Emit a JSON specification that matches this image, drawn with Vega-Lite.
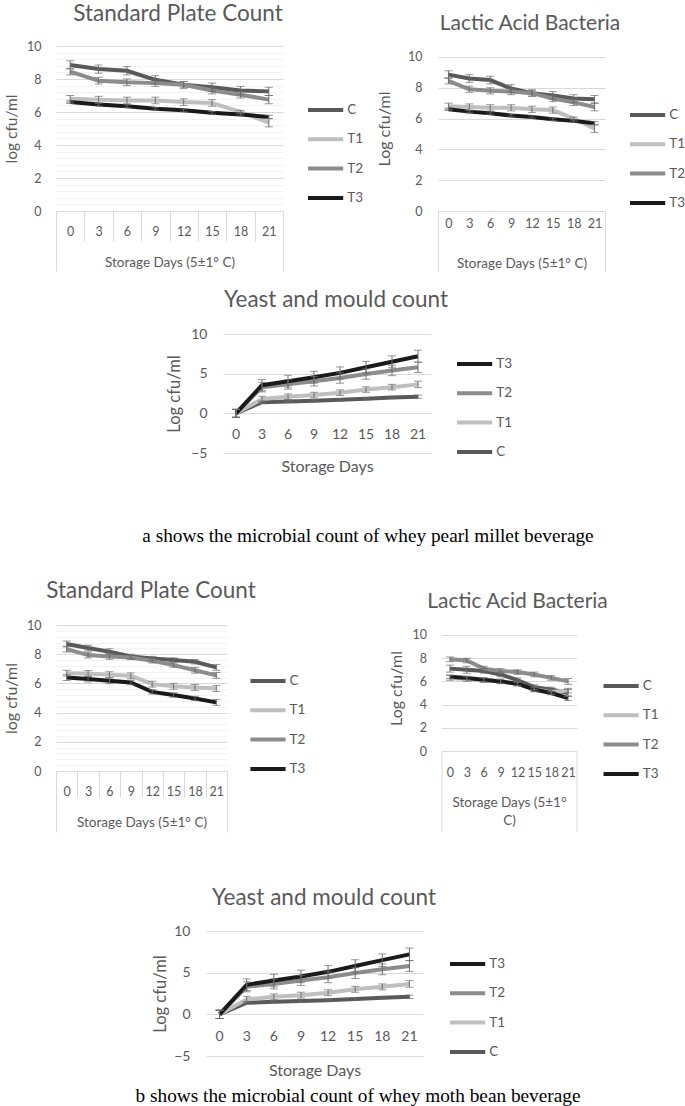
{
  "$schema": "https://vega.github.io/schema/vega-lite/v6.json",
  "background": "white",
  "padding": {"left": 3, "top": 2, "right": 0, "bottom": 0},
  "spacing": 0,
  "resolve": {"scale": {"color": "independent"}, "legend": {"color": "independent"}},
  "config": {
    "view": {"stroke": null},
    "font": "Lato",
    "title": {"font": "Lato", "fontSize": 22.5, "fontWeight": "normal", "color": "#595959", "anchor": "middle"},
    "axis": {"labelFont": "Lato", "titleFont": "Lato", "labelColor": "#595959", "titleColor": "#595959", "labelFontSize": 12.5, "titleFontSize": 13.5, "titleFontWeight": "normal", "domain": false, "ticks": false, "gridColor": "#d9d9d9", "labelOverlap": false},
    "legend": {"labelFont": "Lato", "labelFontSize": 13.5, "labelColor": "#595959", "padding": 0, "symbolType": "M-2.2,0H2.2", "symbolSize": 256, "symbolStrokeWidth": 4, "labelOffset": 11.6, "rowPadding": 11.3, "orient": "none"}
  },
  "datasets": {
    "spcA": [
      {"d":0,"s":"C","v":8.85,"e":0.25},{"d":3,"s":"C","v":8.6,"e":0.25},{"d":6,"s":"C","v":8.5,"e":0.25},{"d":9,"s":"C","v":7.95,"e":0.25},{"d":12,"s":"C","v":7.65,"e":0.2},{"d":15,"s":"C","v":7.5,"e":0.25},{"d":18,"s":"C","v":7.3,"e":0.25},{"d":21,"s":"C","v":7.25,"e":0.25},
      {"d":0,"s":"T1","v":6.8,"e":0.2},{"d":3,"s":"T1","v":6.75,"e":0.2},{"d":6,"s":"T1","v":6.7,"e":0.2},{"d":9,"s":"T1","v":6.7,"e":0.2},{"d":12,"s":"T1","v":6.6,"e":0.2},{"d":15,"s":"T1","v":6.55,"e":0.2},{"d":18,"s":"T1","v":6.0,"e":0.1},{"d":21,"s":"T1","v":5.35,"e":0.25},
      {"d":0,"s":"T2","v":8.45,"e":0.2},{"d":3,"s":"T2","v":7.9,"e":0.2},{"d":6,"s":"T2","v":7.8,"e":0.2},{"d":9,"s":"T2","v":7.75,"e":0.2},{"d":12,"s":"T2","v":7.65,"e":0.2},{"d":15,"s":"T2","v":7.3,"e":0.2},{"d":18,"s":"T2","v":7.05,"e":0.2},{"d":21,"s":"T2","v":6.75,"e":0.25},
      {"d":0,"s":"T3","v":6.6,"e":0.08},{"d":3,"s":"T3","v":6.45,"e":0.08},{"d":6,"s":"T3","v":6.35,"e":0.08},{"d":9,"s":"T3","v":6.2,"e":0.08},{"d":12,"s":"T3","v":6.1,"e":0.08},{"d":15,"s":"T3","v":5.95,"e":0.08},{"d":18,"s":"T3","v":5.85,"e":0.08},{"d":21,"s":"T3","v":5.7,"e":0.1}
    ],
    "spcB": [
      {"d":0,"s":"C","v":8.7,"e":0.2},{"d":3,"s":"C","v":8.42,"e":0.2},{"d":6,"s":"C","v":8.17,"e":0.2},{"d":9,"s":"C","v":7.85,"e":0.15},{"d":12,"s":"C","v":7.7,"e":0.15},{"d":15,"s":"C","v":7.6,"e":0.15},{"d":18,"s":"C","v":7.48,"e":0.15},{"d":21,"s":"C","v":7.1,"e":0.2},
      {"d":0,"s":"T1","v":6.7,"e":0.2},{"d":3,"s":"T1","v":6.68,"e":0.2},{"d":6,"s":"T1","v":6.6,"e":0.2},{"d":9,"s":"T1","v":6.52,"e":0.2},{"d":12,"s":"T1","v":5.95,"e":0.2},{"d":15,"s":"T1","v":5.8,"e":0.2},{"d":18,"s":"T1","v":5.72,"e":0.2},{"d":21,"s":"T1","v":5.65,"e":0.2},
      {"d":0,"s":"T2","v":8.35,"e":0.2},{"d":3,"s":"T2","v":7.94,"e":0.2},{"d":6,"s":"T2","v":7.85,"e":0.2},{"d":9,"s":"T2","v":7.78,"e":0.15},{"d":12,"s":"T2","v":7.55,"e":0.15},{"d":15,"s":"T2","v":7.25,"e":0.15},{"d":18,"s":"T2","v":6.9,"e":0.2},{"d":21,"s":"T2","v":6.55,"e":0.2},
      {"d":0,"s":"T3","v":6.4,"e":0.2},{"d":3,"s":"T3","v":6.3,"e":0.2},{"d":6,"s":"T3","v":6.18,"e":0.2},{"d":9,"s":"T3","v":6.06,"e":0.15},{"d":12,"s":"T3","v":5.42,"e":0.15},{"d":15,"s":"T3","v":5.2,"e":0.15},{"d":18,"s":"T3","v":4.97,"e":0.15},{"d":21,"s":"T3","v":4.7,"e":0.2}
    ],
    "labB": [
      {"d":0,"s":"C","v":7.1,"e":0.3},{"d":3,"s":"C","v":7.0,"e":0.3},{"d":6,"s":"C","v":6.9,"e":0.2},{"d":9,"s":"C","v":6.6,"e":0.2},{"d":12,"s":"C","v":6.1,"e":0.2},{"d":15,"s":"C","v":5.5,"e":0.2},{"d":18,"s":"C","v":5.3,"e":0.2},{"d":21,"s":"C","v":5.0,"e":0.3},
      {"d":0,"s":"T1","v":6.3,"e":0.2},{"d":3,"s":"T1","v":6.2,"e":0.2},{"d":6,"s":"T1","v":6.1,"e":0.2},{"d":9,"s":"T1","v":6.0,"e":0.2},{"d":12,"s":"T1","v":5.8,"e":0.2},{"d":15,"s":"T1","v":5.3,"e":0.2},{"d":18,"s":"T1","v":5.1,"e":0.2},{"d":21,"s":"T1","v":5.2,"e":0.2},
      {"d":0,"s":"T2","v":7.9,"e":0.2},{"d":3,"s":"T2","v":7.8,"e":0.2},{"d":6,"s":"T2","v":7.1,"e":0.2},{"d":9,"s":"T2","v":6.9,"e":0.2},{"d":12,"s":"T2","v":6.8,"e":0.2},{"d":15,"s":"T2","v":6.6,"e":0.2},{"d":18,"s":"T2","v":6.3,"e":0.2},{"d":21,"s":"T2","v":6.0,"e":0.25},
      {"d":0,"s":"T3","v":6.4,"e":0.15},{"d":3,"s":"T3","v":6.3,"e":0.15},{"d":6,"s":"T3","v":6.15,"e":0.15},{"d":9,"s":"T3","v":6.0,"e":0.15},{"d":12,"s":"T3","v":5.8,"e":0.15},{"d":15,"s":"T3","v":5.3,"e":0.15},{"d":18,"s":"T3","v":5.0,"e":0.15},{"d":21,"s":"T3","v":4.55,"e":0.2}
    ],
    "yeast": [
      {"d":0,"s":"C","v":0,"e":0.5},{"d":3,"s":"C","v":1.4,"e":0.15},{"d":6,"s":"C","v":1.5,"e":0.15},{"d":9,"s":"C","v":1.6,"e":0.15},{"d":12,"s":"C","v":1.7,"e":0.15},{"d":15,"s":"C","v":1.85,"e":0.15},{"d":18,"s":"C","v":2.0,"e":0.15},{"d":21,"s":"C","v":2.1,"e":0.2},
      {"d":0,"s":"T1","v":0,"e":0.5},{"d":3,"s":"T1","v":1.8,"e":0.35},{"d":6,"s":"T1","v":2.1,"e":0.35},{"d":9,"s":"T1","v":2.3,"e":0.35},{"d":12,"s":"T1","v":2.6,"e":0.35},{"d":15,"s":"T1","v":3.0,"e":0.35},{"d":18,"s":"T1","v":3.3,"e":0.35},{"d":21,"s":"T1","v":3.65,"e":0.4},
      {"d":0,"s":"T2","v":0,"e":0.5},{"d":3,"s":"T2","v":3.3,"e":0.6},{"d":6,"s":"T2","v":3.65,"e":0.6},{"d":9,"s":"T2","v":4.05,"e":0.6},{"d":12,"s":"T2","v":4.45,"e":0.65},{"d":15,"s":"T2","v":4.95,"e":0.65},{"d":18,"s":"T2","v":5.4,"e":0.65},{"d":21,"s":"T2","v":5.8,"e":0.65},
      {"d":0,"s":"T3","v":0,"e":0.5},{"d":3,"s":"T3","v":3.55,"e":0.7},{"d":6,"s":"T3","v":4.05,"e":0.75},{"d":9,"s":"T3","v":4.55,"e":0.75},{"d":12,"s":"T3","v":5.1,"e":0.75},{"d":15,"s":"T3","v":5.8,"e":0.75},{"d":18,"s":"T3","v":6.5,"e":0.75},{"d":21,"s":"T3","v":7.2,"e":0.75}
    ]
  },
  "vconcat": [
    {
      "resolve": {"scale": {"color": "independent"}, "legend": {"color": "independent"}},
      "hconcat": [
        {
          "width": 227, "height": 165,
          "title": {"text": "Standard Plate Count", "offset": 14.7, "dx": 8.5},
          "data": {"name": "spcA"},
          "encoding": {
            "x": {"field": "d", "type": "ordinal", "scale": {"type": "band", "paddingInner": 0, "paddingOuter": 0},
                  "axis": {"title": "Storage Days (5±1° C)", "labelAngle": 0, "tickBand": "extent", "ticks": true, "domain": true, "domainColor": "#d9d9d9", "tickColor": "#d9d9d9",
                           "tickSize": {"condition": {"test": "datum.extra || datum.value === 21", "value": 60}, "value": 30},
                           "labelPadding": {"condition": {"test": "datum.extra || datum.value === 21", "value": -40}, "value": -10},
                           "labelBaseline": "middle", "titlePadding": -16.5}},
            "y": {"field": "v", "type": "quantitative", "scale": {"domain": [0, 10], "nice": false},
                  "axis": {"title": "log cfu/ml", "titleFontSize": 15.5, "values": [0,0.4,0.8,1.2,1.6,2,2.4,2.8,3.2,3.6,4,4.4,4.8,5.2,5.6,6,6.4,6.8,7.2,7.6,8,8.4,8.8,9.2,9.6,10],
                           "labelExpr": "datum.value % 2 === 0 ? '' + datum.value : ''", "grid": true,
                           "gridColor": {"condition": {"test": "datum.value % 2 === 0", "value": "#d9d9d9"}, "value": "#f2f2f2"},
                           "labelPadding": 15, "titlePadding": 7.5}}
          },
          "layer": [
            {"mark": {"type": "line", "strokeWidth": 4},
             "encoding": {"color": {"field": "s", "type": "nominal", "scale": {"domain": ["C","T1","T2","T3"], "range": ["#595959","#bfbfbf","#8c8c8c","#1a1a1a"]},
                                    "legend": {"title": null, "legendX": 259.6, "legendY": 54}}}},
            {"mark": {"type": "errorbar", "ticks": {"size": 8}, "color": "#6b6b6b", "thickness": 1},
             "encoding": {"yError": {"field": "e"}}}
          ]
        },
        {
          "width": 167, "height": 165,
          "title": {"text": "Lactic Acid Bacteria", "fontSize": 21, "offset": 12, "dx": 8.5},
          "data": {"name": "spcA"},
          "encoding": {
            "x": {"field": "d", "type": "ordinal", "scale": {"type": "band", "paddingInner": 0, "paddingOuter": 0},
                  "axis": {"title": "Storage Days (5±1° C)", "labelAngle": 0, "tickBand": "extent", "ticks": true, "domain": true, "domainColor": "#d9d9d9",
                           "tickColor": {"condition": {"test": "datum.extra || datum.value === 21", "value": "#d9d9d9"}, "value": "transparent"},
                           "tickSize": 60, "labelPadding": -48, "labelBaseline": "middle", "titlePadding": -15.5}},
            "y": {"field": "v", "type": "quantitative", "scale": {"domain": [0, 10.71], "nice": false},
                  "axis": {"title": "Log cfu/ml", "titleFontSize": 16, "values": [0,2,4,6,8,10], "grid": true, "labelPadding": 16, "titlePadding": 15}}
          },
          "layer": [
            {"mark": {"type": "line", "strokeWidth": 4},
             "encoding": {"color": {"field": "s", "type": "nominal", "scale": {"domain": ["C","T1","T2","T3"], "range": ["#595959","#bfbfbf","#8c8c8c","#1a1a1a"]},
                                    "legend": {"title": null, "legendX": 199.6, "legendY": 59}}}},
            {"mark": {"type": "errorbar", "ticks": {"size": 8}, "color": "#6b6b6b", "thickness": 1},
             "encoding": {"yError": {"field": "e"}}}
          ]
        }
      ],
      "spacing": 12
    },
    {
      "resolve": {"scale": {"color": "independent"}, "legend": {"color": "independent"}},
      "hconcat": [
        {"width": 110, "height": 10, "data": {"values": [{}]}, "mark": {"type": "text", "text": ""}},
        {
          "width": 208, "height": 119,
          "title": {"text": ["", "Yeast and mould count"], "lineHeight": 17, "offset": 15.5, "dx": 9},
          "data": {"name": "yeast"},
          "encoding": {
            "x": {"field": "d", "type": "ordinal", "scale": {"type": "band", "paddingInner": 0, "paddingOuter": 0},
                  "axis": {"title": "Storage Days", "titleFontSize": 16, "labelFontSize": 14, "labelAngle": 0, "offset": -39.7, "labelPadding": 14, "titlePadding": 17}},
            "y": {"field": "v", "type": "quantitative", "scale": {"domain": [-5, 10], "nice": false},
                  "axis": {"title": "Log cfu/ml", "titleFontSize": 16.5, "labelFontSize": 14, "values": [-5,0,5,10], "grid": true, "labelPadding": 16, "titlePadding": 8}}
          },
          "layer": [
            {"mark": {"type": "line", "strokeWidth": 4},
             "encoding": {"color": {"field": "s", "type": "nominal", "scale": {"domain": ["T3","T2","T1","C"], "range": ["#1a1a1a","#8c8c8c","#bfbfbf","#595959"]},
                                    "legend": {"title": null, "legendX": 241.6, "legendY": 20}}}},
            {"mark": {"type": "errorbar", "ticks": {"size": 8}, "color": "#6b6b6b", "thickness": 1},
             "encoding": {"yError": {"field": "e"}}}
          ]
        }
      ],
      "spacing": 0
    },
    {
      "width": 624, "height": 104,
      "data": {"values": [{"caption": "a shows the microbial count of whey pearl millet beverage"}]},
      "mark": {"type": "text", "font": "Liberation Serif", "fontSize": 19.3, "color": "#000000", "baseline": "middle", "dy": 9},
      "encoding": {"text": {"field": "caption"}}
    },
    {
      "resolve": {"scale": {"color": "independent"}, "legend": {"color": "independent"}},
      "hconcat": [
        {
          "width": 171, "height": 146,
          "title": {"text": "Standard Plate Count", "offset": 16.7, "dx": 9.5},
          "data": {"name": "spcB"},
          "encoding": {
            "x": {"field": "d", "type": "ordinal", "scale": {"type": "band", "paddingInner": 0, "paddingOuter": 0},
                  "axis": {"title": "Storage Days (5±1° C)", "labelAngle": 0, "tickBand": "extent", "ticks": true, "domain": true, "domainColor": "#d9d9d9", "tickColor": "#d9d9d9",
                           "tickSize": {"condition": {"test": "datum.extra || datum.value === 21", "value": 61}, "value": 26},
                           "labelPadding": {"condition": {"test": "datum.extra || datum.value === 21", "value": -41}, "value": -6},
                           "labelBaseline": "middle", "titlePadding": -17.5}},
            "y": {"field": "v", "type": "quantitative", "scale": {"domain": [0, 10], "nice": false},
                  "axis": {"title": "log cfu/ml", "titleFontSize": 16, "values": [0,0.4,0.8,1.2,1.6,2,2.4,2.8,3.2,3.6,4,4.4,4.8,5.2,5.6,6,6.4,6.8,7.2,7.6,8,8.4,8.8,9.2,9.6,10],
                           "labelExpr": "datum.value % 2 === 0 ? '' + datum.value : ''", "grid": true,
                           "gridColor": {"condition": {"test": "datum.value % 2 === 0", "value": "#d9d9d9"}, "value": "#f2f2f2"},
                           "labelPadding": 15, "titlePadding": 7.5}}
          },
          "layer": [
            {"mark": {"type": "line", "strokeWidth": 4},
             "encoding": {"color": {"field": "s", "type": "nominal", "scale": {"domain": ["C","T1","T2","T3"], "range": ["#595959","#bfbfbf","#8c8c8c","#1a1a1a"]},
                                    "legend": {"title": null, "legendX": 202, "legendY": 46}}}},
            {"mark": {"type": "errorbar", "ticks": {"size": 8}, "color": "#6b6b6b", "thickness": 1},
             "encoding": {"yError": {"field": "e"}}}
          ]
        },
        {
          "width": 135, "height": 126,
          "title": {"text": "Lactic Acid Bacteria", "fontSize": 21, "offset": 13, "dx": 8.5},
          "data": {"name": "labB"},
          "encoding": {
            "x": {"field": "d", "type": "ordinal", "scale": {"type": "band", "paddingInner": 0, "paddingOuter": 0},
                  "axis": {"title": ["Storage Days (5±1°", "C)"], "titleLineHeight": 18, "labelAngle": 0, "tickBand": "extent", "ticks": true, "domain": true, "domainColor": "#d9d9d9",
                           "tickColor": {"condition": {"test": "datum.extra || datum.value === 21", "value": "#d9d9d9"}, "value": "transparent"},
                           "tickSize": 80, "labelPadding": -59, "labelBaseline": "middle", "titlePadding": -36.5}},
            "y": {"field": "v", "type": "quantitative", "scale": {"domain": [0, 10.86], "nice": false},
                  "axis": {"title": "Log cfu/ml", "titleFontSize": 16, "values": [0,2,4,6,8,10], "grid": true, "labelPadding": 15, "titlePadding": 8}}
          },
          "layer": [
            {"mark": {"type": "line", "strokeWidth": 4},
             "encoding": {"color": {"field": "s", "type": "nominal", "scale": {"domain": ["C","T1","T2","T3"], "range": ["#595959","#bfbfbf","#8c8c8c","#1a1a1a"]},
                                    "legend": {"title": null, "legendX": 169.6, "legendY": 51}}}},
            {"mark": {"type": "errorbar", "ticks": {"size": 8}, "color": "#6b6b6b", "thickness": 1},
             "encoding": {"yError": {"field": "e"}}}
          ]
        }
      ],
      "spacing": 81.5
    },
    {
      "resolve": {"scale": {"color": "independent"}, "legend": {"color": "independent"}},
      "hconcat": [
        {"width": 96, "height": 10, "data": {"values": [{}]}, "mark": {"type": "text", "text": ""}},
        {
          "width": 217, "height": 125,
          "title": {"text": ["", "Yeast and mould count"], "lineHeight": 53.7, "offset": 14.4, "dx": 9.5},
          "data": {"name": "yeast"},
          "encoding": {
            "x": {"field": "d", "type": "ordinal", "scale": {"type": "band", "paddingInner": 0, "paddingOuter": 0},
                  "axis": {"title": "Storage Days", "titleFontSize": 16, "labelFontSize": 14, "labelAngle": 0, "offset": -41.7, "labelPadding": 15, "titlePadding": 19}},
            "y": {"field": "v", "type": "quantitative", "scale": {"domain": [-5, 10], "nice": false},
                  "axis": {"title": "Log cfu/ml", "titleFontSize": 16.5, "labelFontSize": 14, "values": [-5,0,5,10], "grid": true, "labelPadding": 16, "titlePadding": 5}}
          },
          "layer": [
            {"mark": {"type": "line", "strokeWidth": 4},
             "encoding": {"color": {"field": "s", "type": "nominal", "scale": {"domain": ["T3","T2","T1","C"], "range": ["#1a1a1a","#8c8c8c","#bfbfbf","#595959"]},
                                    "legend": {"title": null, "legendX": 251.6, "legendY": 23}}}},
            {"mark": {"type": "errorbar", "ticks": {"size": 8}, "color": "#6b6b6b", "thickness": 1},
             "encoding": {"yError": {"field": "e"}}}
          ]
        }
      ],
      "spacing": 0
    },
    {
      "width": 604, "height": 26,
      "data": {"values": [{"caption": "b shows the microbial count of whey moth bean beverage"}]},
      "mark": {"type": "text", "font": "Liberation Serif", "fontSize": 19.3, "color": "#000000", "baseline": "middle", "dy": 4},
      "encoding": {"text": {"field": "caption"}}
    }
  ]
}
